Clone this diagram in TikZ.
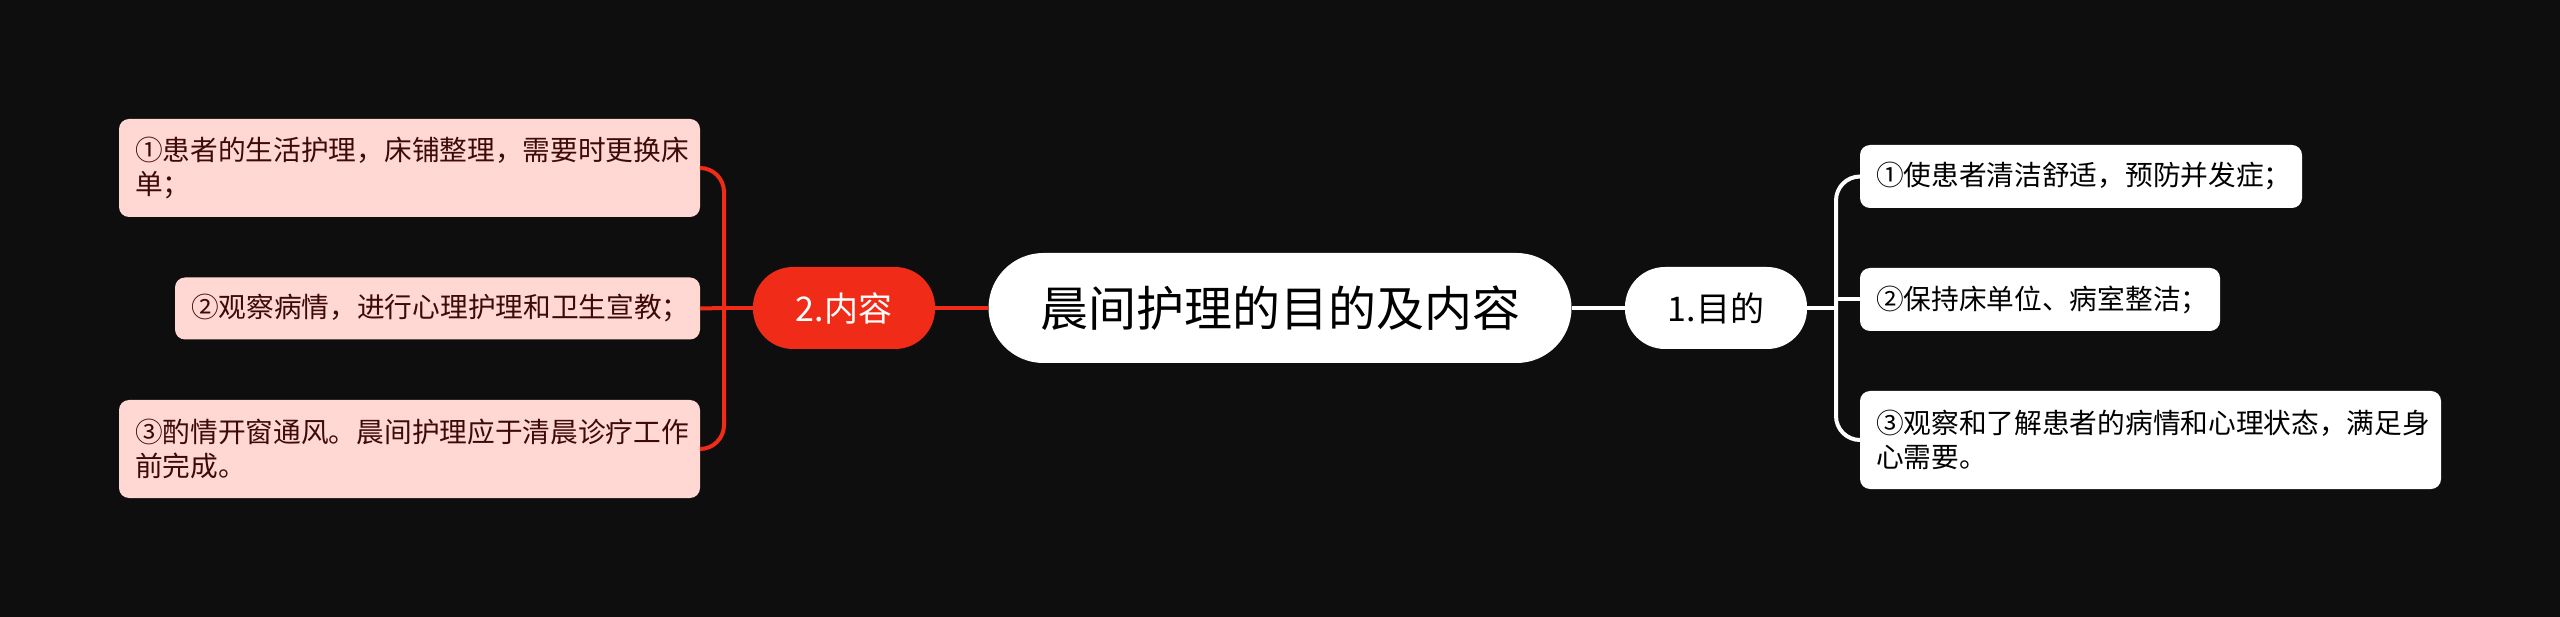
\documentclass[tikz,border=0pt]{standalone}
\usepackage{fontspec}
\setmainfont{Noto Sans CJK SC}
\definecolor{bg}{HTML}{0E0E0E}
\definecolor{redn}{HTML}{F02B17}
\definecolor{pinkn}{HTML}{FFD7D3}
\definecolor{pinktxt}{HTML}{3C0A0A}
\tikzset{
  leaf/.style={rounded corners=10pt, inner xsep=16pt, inner ysep=0pt, align=left, anchor=center,
     font=\fontsize{27.7}{34}\selectfont},
  pinkleaf/.style={leaf, fill=pinkn, text=pinktxt},
  whiteleaf/.style={leaf, fill=white, text=black},
  pill/.style={rounded corners=40pt, minimum width=182pt, minimum height=82pt, inner sep=0pt,
     font=\fontsize{34}{40}\selectfont},
  redline/.style={draw=redn, line width=4pt},
  whiteline/.style={draw=white, line width=4pt},
}
\begin{document}
\begin{tikzpicture}[x=1pt,y=-1pt]
\useasboundingbox (0,0) rectangle (2560,617);
\fill[bg] (0,0) rectangle (2560,617);

% central
\node[fill=white, rounded corners=55pt, minimum width=583pt, minimum height=110pt, inner sep=0pt,
      font=\fontsize{48}{56}\selectfont, text=black] (c) at (1280,308) {晨间护理的目的及内容};
\node[pill, fill=redn, text=white] (r) at (844,308) {2.内容};
\node[pill, fill=white, text=black] (g) at (1716,308) {1.目的};

% left leaves
\node[pinkleaf, text width=549pt, minimum height=98pt] (l1) at (409.5,168) {①患者的生活护理，床铺整理，需要时更换床\\单；};
\node[pinkleaf, text width=493pt, minimum height=62pt] (l2) at (437.5,308.5) {②观察病情，进行心理护理和卫生宣教；};
\node[pinkleaf, text width=549pt, minimum height=98pt] (l3) at (409.5,449) {③酌情开窗通风。晨间护理应于清晨诊疗工作\\前完成。};

% right leaves
\node[whiteleaf, text width=410pt, minimum height=63pt] (w1) at (2081,176.5) {①使患者清洁舒适，预防并发症；};
\node[whiteleaf, text width=328pt, minimum height=63pt] (w2) at (2040,299.5) {②保持床单位、病室整洁；};
\node[whiteleaf, text width=549pt, minimum height=98pt] (w3) at (2150.5,440) {③观察和了解患者的病情和心理状态，满足身\\心需要。};

% connectors
\draw[redline] (c.west) -- (r.east);
\draw[whiteline] (c.east) -- (g.west);
\coordinate (rj) at (724,308);
\coordinate (wj) at (1836,308);
\draw[redline] (r.west) -- (rj);
\draw[redline, rounded corners=24pt] (l1.east) -| (rj) |- (l3.east);
\draw[redline] (rj) -- (l2.east);
\draw[whiteline] (g.east) -- (wj);
\draw[whiteline, rounded corners=24pt] (w1.west) -| (wj) |- (w3.west);
\draw[whiteline] (wj |- w2.west) -- (w2.west);
\end{tikzpicture}
\end{document}
